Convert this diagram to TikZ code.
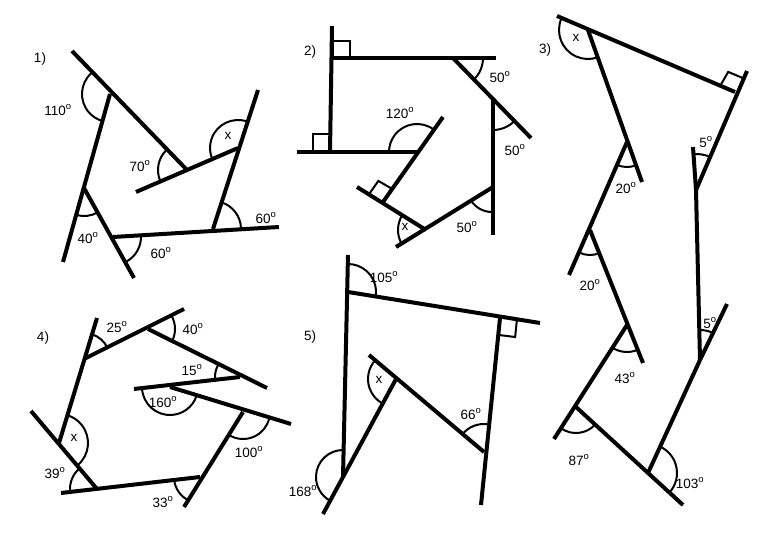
\documentclass[tikz,border=0pt]{standalone}
\usepackage{fontspec}
\setmainfont{Liberation Sans}
\usetikzlibrary{calc}
\tikzset{ln/.style={line width=4pt,line cap=butt},
 arcst/.style={line width=2pt},
 sq/.style={line width=2pt},
 lbl/.style={inner sep=0pt,font=\fontsize{13.5}{15}\selectfont}}
\newcommand\dg{\textsuperscript{o}}
\newcommand\angarc[4]{\draw[arcst] let \p1=($(#2)-(#1)$), \p2=($(#3)-(#1)$), \n1={atan2(\y1,\x1)}, \n2={atan2(\y2,\x2)}, \n3={ifthenelse(\n2<\n1,\n2+360,\n2)} in ($(#1)+(\n1:#4pt)$) arc[start angle=\n1, end angle=\n3, radius=#4pt];}
\newcommand\rsq[4]{\path ($(#1)!#4pt!(#2)$) coordinate (rqa) ($(#1)!#4pt!(#3)$) coordinate (rqb); \draw[sq] (rqa) -- ($(rqa)+(rqb)-(#1)$) -- (rqb);}
\begin{document}
\begin{tikzpicture}[x=1pt,y=-1pt]
\useasboundingbox (0,0) rectangle (780,540);
% ---------- 1
\draw[ln] (72,51)--(187,170);
\draw[ln] (110,94)--(63,262);
\draw[ln] (84,188)--(134,278);
\draw[ln] (113,237)--(279,227);
\draw[ln] (213,229)--(258,90);
\draw[ln] (238,148)--(136,192);
\angarc{110,94}{72,51}{63,262}{28}
\angarc{186,170}{110,94}{136,192}{28}
\angarc{238,148}{258,90}{136,192}{28}
\angarc{213,229}{279,227}{238,148}{28}
\angarc{84,188}{63,262}{113,237}{28}
\angarc{113,237}{134,278}{279,227}{28}
\node[lbl] at (40,59) {1)};
\node[lbl] at (58,110) {110\dg};
\node[lbl] at (140,166) {70\dg};
\node[lbl] at (228,136) {x};
\node[lbl] at (266,218) {60\dg};
\node[lbl] at (88,238) {40\dg};
\node[lbl] at (161,253) {60\dg};
% ---------- 2
\draw[ln] (332,26)--(330,152);
\draw[ln] (330,58)--(496,58);
\draw[sq] (333,58)--(333,41)--(350,41)--(350,58);
\draw[ln] (297,152)--(417,152);
\draw[sq] (330,152)--(313,152)--(313,134)--(330,134);
\draw[ln] (443,117)--(383,202);
\draw[ln] (357,187)--(426,230);
\rsq{383,202}{443,117}{357,187}{16}
\draw[ln] (396,247)--(493,187);
\draw[ln] (493,100)--(493,235);
\draw[ln] (453,58)--(531,138);
\angarc{417,152}{443,117}{297,152}{28}
\angarc{453,58}{531,138}{496,58}{30}
\angarc{493,100}{493,235}{531,138}{30}
\angarc{492,187}{396,247}{493,235}{25}
\angarc{426,230}{357,187}{396,247}{28}
\node[lbl] at (310,52) {2)};
\node[lbl] at (500,77) {50\dg};
\node[lbl] at (400,113) {120\dg};
\node[lbl] at (515,150) {50\dg};
\node[lbl] at (467,227) {50\dg};
\node[lbl] at (405,227) {x};
% ---------- 3
\draw[ln] (557,16)--(735,92);
\draw[ln] (747,71)--(696,190);
\rsq{735,92}{747,71}{588,30}{16}
\draw[ln] (588,30)--(642,182);
\draw[ln] (627,142)--(569,275);
\draw[ln] (590,230)--(643,363);
\draw[ln] (627,325)--(554,439);
\draw[ln] (576,407)--(683,505);
\draw[ln] (648,473)--(700,360);
\draw[ln] (700,360)--(727,304);
\draw[ln] (700,360)--(696,190)--(693,147);
\angarc{588,30}{557,16}{642,182}{29}
\angarc{627,142}{569,275}{642,182}{25}
\angarc{590,230}{569,275}{643,363}{25}
\angarc{627,325}{554,439}{643,363}{27}
\angarc{576,407}{554,439}{683,505}{26}
\angarc{648,473}{683,505}{700,360}{29}
\angarc{696,190}{747,71}{693,147}{36}
\angarc{700,360}{727,304}{696,190}{30}
\node[lbl] at (545,50) {3)};
\node[lbl] at (576,38) {x};
\node[lbl] at (626,188) {20\dg};
\node[lbl] at (590,285) {20\dg};
\node[lbl] at (625,378) {43\dg};
\node[lbl] at (579,460) {87\dg};
\node[lbl] at (690,483) {103\dg};
\node[lbl] at (706,142) {5\dg};
\node[lbl] at (710,323) {5\dg};
% ---------- 4
\draw[ln] (97,318)--(59,443);
\draw[ln] (84,359)--(184,309);
\draw[ln] (148,329)--(267,388);
\draw[ln] (240,377)--(134,389);
\draw[ln] (170,387)--(291,424);
\draw[ln] (243,412)--(184,507);
\draw[ln] (200,477)--(61,493);
\draw[ln] (31,411)--(97,489);
\angarc{84,359}{148,329}{97,318}{26}
\angarc{148,329}{240,377}{184,309}{27}
\angarc{240,377}{148,329}{134,389}{25}
\angarc{170,387}{134,389}{243,412}{28}
\angarc{243,412}{200,477}{291,424}{27}
\angarc{200,477}{97,489}{184,507}{26}
\angarc{97,489}{31,411}{61,493}{27}
\angarc{59,443}{97,489}{97,318}{29}
\node[lbl] at (43,338) {4)};
\node[lbl] at (117,327) {25\dg};
\node[lbl] at (193,329) {40\dg};
\node[lbl] at (192,370) {15\dg};
\node[lbl] at (163,402) {160\dg};
\node[lbl] at (249,452) {100\dg};
\node[lbl] at (163,502) {33\dg};
\node[lbl] at (55,473) {39\dg};
\node[lbl] at (74,438) {x};
% ---------- 5
\draw[ln] (348,255)--(343,477);
\draw[ln] (348,292)--(540,323);
\draw[ln] (500,318)--(481,505);
\rsq{500,318}{540,323}{481,505}{17}
\draw[ln] (484,452)--(369,355);
\draw[ln] (396,379)--(323,514);
\angarc{348,292}{500,318}{348,255}{28}
\angarc{396,379}{369,355}{323,514}{28}
\angarc{484,452}{500,318}{396,379}{28}
\angarc{343,477}{348,292}{323,514}{27}
\node[lbl] at (310,337) {5)};
\node[lbl] at (384,277) {105\dg};
\node[lbl] at (379,380) {x};
\node[lbl] at (471,414) {66\dg};
\node[lbl] at (303,491) {168\dg};
\end{tikzpicture}
\end{document}
